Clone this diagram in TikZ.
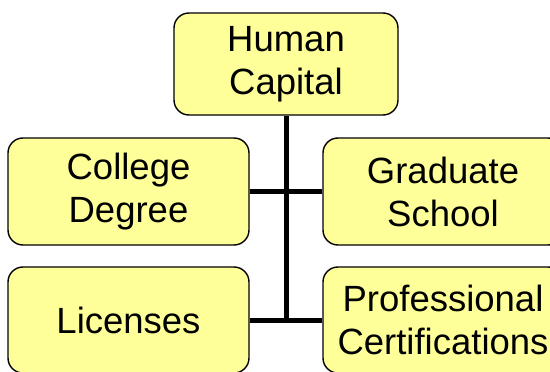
\documentclass[tikz,border=0pt]{standalone}
\usepackage{fontspec}
\setmainfont{Liberation Sans}
\begin{document}
\begin{tikzpicture}[x=1pt,y=-1pt,
  box/.style={draw=black, line width=1.4pt, fill=boxyellow, rounded corners=15pt,
    align=center, inner sep=0pt, font=\fontsize{36.5}{43}\selectfont},
  link/.style={draw=black, line width=5pt}]
\definecolor{boxyellow}{HTML}{FFFF99}
\useasboundingbox (0,0) rectangle (550,372);
\clip (0,0) rectangle (550,372);
\node[box, minimum width=224pt, minimum height=102pt] (top) at (286,64) {Human\\Capital};
\node[box, minimum width=241pt, minimum height=107pt] (cd) at (128.5,191.5) {College\\Degree};
\node[box, minimum width=240pt, minimum height=107pt] (gs) at (443,191.5) {Graduate\\School};
\node[box, minimum width=241pt, minimum height=106pt] (lic) at (128.5,320) {Licenses};
\node[box, minimum width=240pt, minimum height=106pt] (pc) at (443,320) {Professional\\Certifications};
\coordinate (bot) at (top.south |- lic.east);
\draw[link] (top.south) -- ([yshift=-2.5pt]bot);
\draw[link] (cd.east) -- (gs.west);
\draw[link] (lic.east) -- (pc.west);
\end{tikzpicture}
\end{document}
